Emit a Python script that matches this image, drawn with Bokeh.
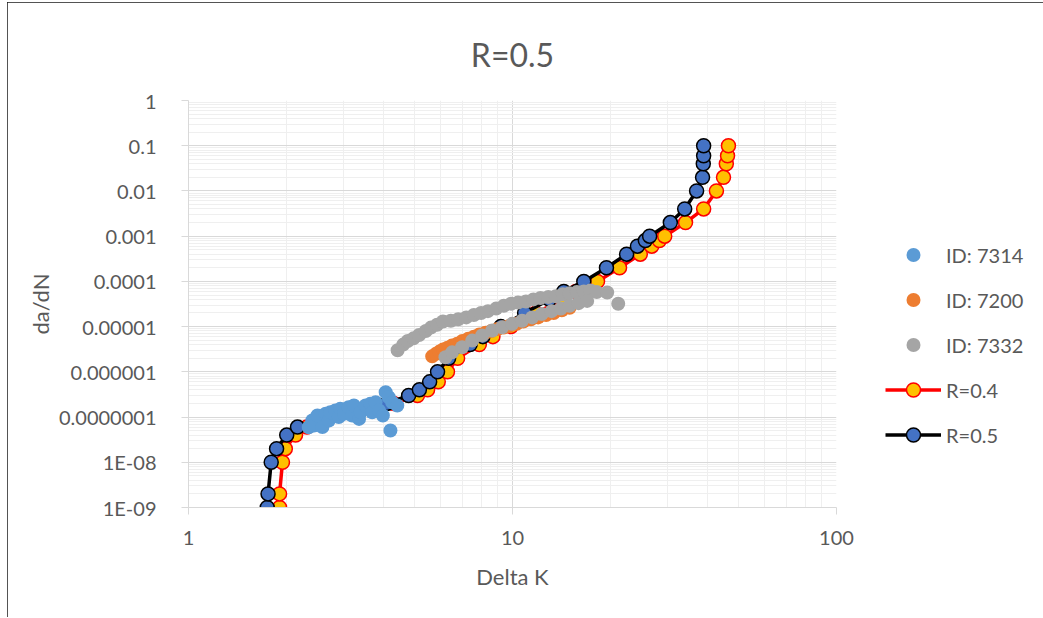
from bokeh.plotting import figure
from bokeh.models import (FixedTicker, CustomJSTickFormatter, Legend, LegendItem)
from bokeh.embed import file_html
from bokeh.resources import INLINE

FONT = "Lato"
TXT = "#595959"

# ---------------- data ----------------
X_TICKS = [1, 10, 100]
X_TICK_LABELS = ["1", "10", "100"]
Y_TICKS = [1e-9, 1e-8, 1e-7, 1e-6, 1e-5, 1e-4, 1e-3, 1e-2, 1e-1, 1]
Y_TICK_LABELS = ["1E-09", "1E-08", "0.0000001", "0.000001", "0.00001",
                 "0.0001", "0.001", "0.01", "0.1", "1"]

id7314_dk = [2.35, 2.41, 2.44, 2.50, 2.59, 2.65, 2.71, 2.74, 2.84, 2.91, 2.94, 3.02,
             3.12, 3.20, 3.24, 3.36, 3.40, 3.52, 3.64, 3.69, 3.78, 3.87, 3.98, 4.06,
             4.15, 4.25, 4.41, 4.20]
id7314_dadn = [5.96e-8, 8.4e-8, 6.5e-8, 1.08e-7, 6.0e-8, 1.18e-7, 8.4e-8, 1.28e-7, 1.40e-7,
               1.0e-7, 1.52e-7, 1.18e-7, 1.65e-7, 1.08e-7, 1.80e-7, 9.1e-8, 1.28e-7, 1.80e-7,
               1.96e-7, 1.28e-7, 2.13e-7, 1.40e-7, 1.08e-7, 3.55e-7, 2.75e-7, 2.13e-7,
               1.80e-7, 5.04e-8]

id7200_dk = [5.65, 5.80, 5.95, 6.10, 6.30, 6.50, 6.75, 7.00, 7.30, 7.60, 7.90, 8.25,
             8.60, 9.00, 9.40, 9.80, 10.3, 10.8, 11.4, 12.0, 12.7, 13.4, 14.2, 15.0]
id7200_dadn = [2.2e-6, 2.5e-6, 2.8e-6, 3.1e-6, 3.4e-6, 3.8e-6, 4.2e-6, 4.8e-6, 5.4e-6,
               6.0e-6, 6.7e-6, 7.3e-6, 8.0e-6, 8.8e-6, 9.5e-6, 1.05e-5, 1.15e-5, 1.3e-5,
               1.45e-5, 1.6e-5, 1.8e-5, 2.0e-5, 2.3e-5, 2.6e-5]

id7332_dk = [4.42, 4.60, 4.75, 4.95, 5.15, 5.40, 5.60, 5.85, 6.10, 6.45, 6.80, 7.20,
             7.60, 8.00, 8.40, 8.90, 9.40, 9.90, 10.4, 11.0, 11.6, 12.2, 12.9, 13.6,
             14.3, 15.0, 15.8, 16.6, 17.4, 18.2, 19.6, 21.2,
             6.21, 6.51, 6.99, 7.51, 8.06, 8.66, 9.29, 9.98, 10.7, 11.5, 12.3, 13.2,
             14.1, 15.0, 16.0, 17.0]
id7332_dadn = [3.0e-6, 4.0e-6, 4.8e-6, 5.5e-6, 6.5e-6, 8.0e-6, 9.5e-6, 1.1e-5, 1.3e-5,
               1.35e-5, 1.45e-5, 1.6e-5, 1.8e-5, 2.0e-5, 2.2e-5, 2.5e-5, 2.9e-5, 3.2e-5,
               3.4e-5, 3.6e-5, 4.0e-5, 4.3e-5, 4.5e-5, 4.7e-5, 5.2e-5, 5.5e-5, 5.8e-5,
               6.0e-5, 6.3e-5, 5.8e-5, 5.7e-5, 3.2e-5,
               2.1e-6, 2.7e-6, 3.5e-6, 4.9e-6, 6.4e-6, 8.2e-6, 9.7e-6, 1.15e-5, 1.35e-5,
               1.6e-5, 1.9e-5, 2.2e-5, 2.5e-5, 2.9e-5, 3.3e-5, 3.7e-5]

r04_dk = [1.91, 1.91, 1.95, 1.99, 2.14, 2.32, 2.70, 4.30, 5.09, 5.47, 5.90, 6.30,
          6.77, 7.90, 8.70, 9.90, 11.8, 14.3, 15.7, 18.3, 21.4, 24.8, 26.9, 28.4,
          29.5, 34.2, 38.9, 42.6, 44.8, 45.7, 46.1, 46.4]
r04_dadn = [1e-9, 2e-9, 1e-8, 2e-8, 4e-8, 6e-8, 1e-7, 2e-7, 3e-7, 4e-7, 6e-7, 1e-6,
            2e-6, 4e-6, 6e-6, 1e-5, 2e-5, 4e-5, 6e-5, 1e-4, 2e-4, 4e-4, 6e-4, 8e-4,
            1e-3, 2e-3, 4e-3, 1e-2, 2e-2, 4e-2, 6e-2, 1e-1]

r05_dk = [1.75, 1.76, 1.80, 1.87, 2.01, 2.17, 2.60, 4.10, 4.78, 5.16, 5.55, 5.87,
          6.35, 7.40, 8.10, 9.20, 10.9, 13.0, 14.4, 16.6, 19.5, 22.5, 24.3, 25.7,
          26.5, 30.7, 34.0, 37.0, 38.6, 38.8, 38.9, 38.9]
r05_dadn = list(r04_dadn)

# ---------------- figure ----------------
p = figure(x_axis_type="log", y_axis_type="log",
           x_range=(1, 100), y_range=(1e-9, 1),
           frame_width=648, frame_height=407,
           min_border_left=181, min_border_right=205,
           min_border_top=98, min_border_bottom=110,
           output_backend="svg", toolbar_location=None,
           background_fill_color="white", border_fill_color="white")
p.outline_line_color = None
p.styles = {"outline": "1px solid #1a1a1a", "outline-offset": "-1px",
            "margin-left": "7px", "margin-top": "2px"}

p.title.text = "R=0.5"
p.title.align = "center"
p.title.text_font = FONT
p.title.text_font_size = "32px"
p.title.text_font_style = "normal"
p.title.text_color = TXT
p.title.standoff = 50
p.title.vertical_align = "top"

minor_x = [m * 10 ** e for e in range(0, 2) for m in range(2, 10)]
minor_y = [m * 10.0 ** e for e in range(-9, 0) for m in range(2, 10)]
p.xaxis.ticker = FixedTicker(ticks=X_TICKS, minor_ticks=minor_x)
p.yaxis.ticker = FixedTicker(ticks=Y_TICKS, minor_ticks=minor_y)
p.xaxis.formatter = CustomJSTickFormatter(args=dict(labels=X_TICK_LABELS),
                                          code="return labels[Math.round(Math.log10(tick))];")
p.yaxis.formatter = CustomJSTickFormatter(args=dict(labels=Y_TICK_LABELS),
                                          code="return labels[Math.round(Math.log10(tick)) + 9];")

for g in (p.xgrid, p.ygrid):
    g.grid_line_color = "#D9D9D9"
    g.grid_line_width = 1
    g.minor_grid_line_color = "#EFEFEF"
    g.minor_grid_line_width = 1

for ax in (p.xaxis, p.yaxis):
    ax.axis_line_color = "#D9D9D9"
    ax.major_tick_line_color = "#D9D9D9"
    ax.major_tick_out = 7
    ax.major_tick_in = 0
    ax.minor_tick_line_color = None
    ax.major_label_text_font = FONT
    ax.major_label_text_font_size = "20px"
    ax.major_label_text_color = TXT
    ax.axis_label_text_font = FONT
    ax.axis_label_text_font_size = "22px"
    ax.axis_label_text_font_style = "normal"
    ax.axis_label_text_color = TXT

p.yaxis.major_label_standoff = 25
p.xaxis.major_label_standoff = 16
p.xaxis.axis_label = "Delta K"
p.yaxis.axis_label = "da/dN"
p.xaxis.axis_label_standoff = 15
p.yaxis.axis_label_standoff = 2

# lines (drawn below the scatter sets)
l04 = p.line(r04_dk, r04_dadn, line_color="#FF0000", line_width=3.5)
m04 = p.scatter(r04_dk, r04_dadn, size=14, fill_color="#FFC000",
                line_color="#FF0000", line_width=1.5)
l05 = p.line(r05_dk, r05_dadn, line_color="#000000", line_width=3.5)
m05 = p.scatter(r05_dk, r05_dadn, size=14, fill_color="#4472C4",
                line_color="#000000", line_width=1.5)

s7200 = p.scatter(id7200_dk, id7200_dadn, size=14, fill_color="#ED7D31", line_color=None)
s7332 = p.scatter(id7332_dk, id7332_dadn, size=14, fill_color="#A5A5A5", line_color=None)
s7314 = p.scatter(id7314_dk, id7314_dadn, size=14, fill_color="#5B9BD5", line_color=None)

legend = Legend(items=[
    LegendItem(label="ID: 7314", renderers=[s7314]),
    LegendItem(label="ID: 7200", renderers=[s7200]),
    LegendItem(label="ID: 7332", renderers=[s7332]),
    LegendItem(label="R=0.4", renderers=[l04, m04]),
    LegendItem(label="R=0.5", renderers=[l05, m05]),
], location=(49, 55), orientation="vertical")
legend.glyph_width = 56
legend.glyph_height = 35
legend.spacing = 10
legend.padding = 10
legend.margin = 0
legend.label_standoff = 5
legend.label_text_font = FONT
legend.label_text_font_size = "20px"
legend.label_text_color = TXT
legend.border_line_color = None
legend.background_fill_alpha = 0
p.add_layout(legend, "right")

open("out.html", "w").write(file_html(p, INLINE))
